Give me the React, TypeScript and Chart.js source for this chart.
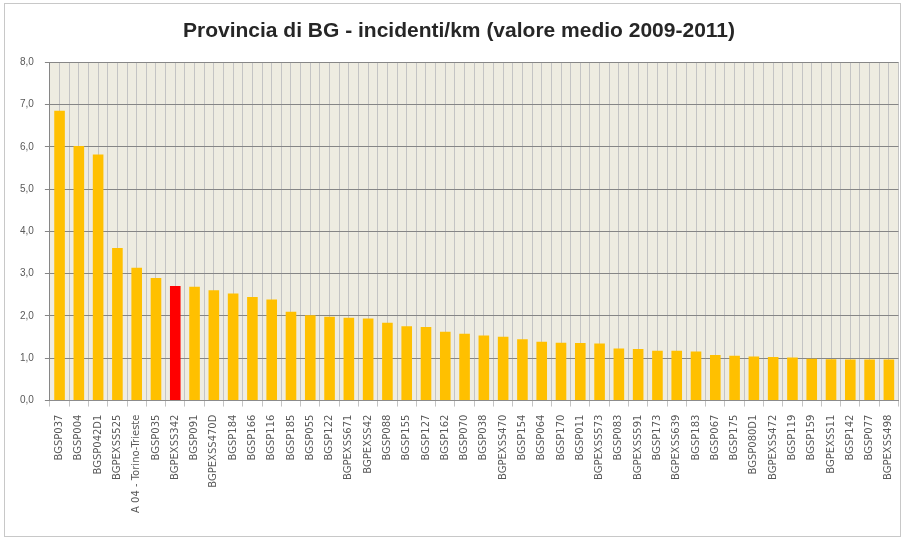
import React, { useEffect, useRef } from "react";
import { Chart, registerables } from "chart.js";

Chart.register(...registerables);

const TITLE = "Provincia di BG - incidenti/km (valore medio 2009-2011)";

const categories: string[] = [
  "BGSP037", "BGSP004", "BGSP042D1", "BGPEXSS525", "A 04 - Torino-Trieste", "BGSP035",
  "BGPEXSS342", "BGSP091", "BGPEXSS470D", "BGSP184", "BGSP166", "BGSP116", "BGSP185",
  "BGSP055", "BGSP122", "BGPEXSS671", "BGPEXSS42", "BGSP088", "BGSP155", "BGSP127",
  "BGSP162", "BGSP070", "BGSP038", "BGPEXSS470", "BGSP154", "BGSP064", "BGSP170",
  "BGSP011", "BGPEXSS573", "BGSP083", "BGPEXSS591", "BGSP173", "BGPEXSS639", "BGSP183",
  "BGSP067", "BGSP175", "BGSP080D1", "BGPEXSS472", "BGSP119", "BGSP159", "BGPEXSS11",
  "BGSP142", "BGSP077", "BGPEXSS498",
];

const values: number[] = [
  6.85, 6.02, 5.82, 3.61, 3.14, 2.9,
  2.71, 2.69, 2.61, 2.53, 2.45, 2.39, 2.1,
  2.02, 1.98, 1.96, 1.94, 1.84, 1.76, 1.74,
  1.63, 1.58, 1.54, 1.51, 1.45, 1.39, 1.37,
  1.36, 1.35, 1.23, 1.22, 1.18, 1.18, 1.16,
  1.08, 1.06, 1.04, 1.03, 1.02, 0.99, 0.98,
  0.97, 0.97, 0.97,
];

const highlighted: string[] = ["BGPEXSS342"];
const yTicks: number[] = [0, 1, 2, 3, 4, 5, 6, 7, 8];

const BAR_COLOR = "#FFC000";
const HIGHLIGHT_COLOR = "#FF0000";

export default function App() {
  const ref = useRef<HTMLCanvasElement | null>(null);

  useEffect(() => {
    if (!ref.current) return;
    const bgPlugin = {
      id: "plotBg",
      beforeDraw(chart: any) {
        const { ctx, chartArea } = chart;
        if (!chartArea) return;
        ctx.save();
        ctx.fillStyle = "#EEECE1";
        ctx.fillRect(chartArea.left, chartArea.top, chartArea.right - chartArea.left, chartArea.bottom - chartArea.top);
        ctx.restore();
      },
    };
    const chart = new Chart(ref.current, {
      type: "bar",
      data: {
        labels: categories,
        datasets: [
          {
            data: values,
            backgroundColor: categories.map((c) => (highlighted.includes(c) ? HIGHLIGHT_COLOR : BAR_COLOR)),
            barPercentage: 0.55,
            categoryPercentage: 1,
          },
        ],
      },
      options: {
        responsive: false,
        animation: false,
        layout: { padding: { top: 0, left: 4, right: 0, bottom: 15 } },
        plugins: {
          legend: { display: false },
          tooltip: { enabled: false },
          title: {
            display: true,
            text: TITLE,
            color: "#262626",
            font: { family: "Liberation Sans", size: 21, weight: "bold" },
            padding: { top: 15, bottom: 18 },
          },
        },
        scales: {
          x: {
            offset: true,
            grid: { offset: true, color: "#C4C4C4", tickLength: 6, drawOnChartArea: true },
            border: { color: "#8C8C8C" },
            ticks: {
              autoSkip: false,
              minRotation: 90,
              maxRotation: 90,
              color: "#595959",
              font: { family: "DejaVu Sans", size: 10 },
              padding: 8,
            },
          },
          x2: {
            type: "category",
            labels: categories,
            position: "top",
            offset: true,
            grid: { offset: false, color: "#C4C4C4", drawTicks: false },
            border: { display: false },
            ticks: { display: false },
          },
          y: {
            min: 0,
            max: 8,
            afterBuildTicks: (axis: any) => {
              axis.ticks = yTicks.map((v) => ({ value: v }));
            },
            grid: { color: "#868686", tickLength: 5 },
            border: { color: "#868686" },
            ticks: {
              color: "#595959",
              font: { family: "Liberation Sans", size: 10 },
              padding: 11,
              callback: (v: any) => Number(v).toFixed(1).replace(".", ","),
            },
          },
        },
      },
      plugins: [bgPlugin],
    });
    return () => chart.destroy();
  }, []);

  return (
    <div
      style={{
        position: "absolute",
        left: 4,
        top: 3,
        width: 895,
        height: 532,
        border: "1px solid #C8C8C8",
        background: "#FFFFFF",
        overflow: "hidden",
      }}
    >
      <canvas ref={ref} width={904} height={532} style={{ display: "block" }} />
    </div>
  );
}
